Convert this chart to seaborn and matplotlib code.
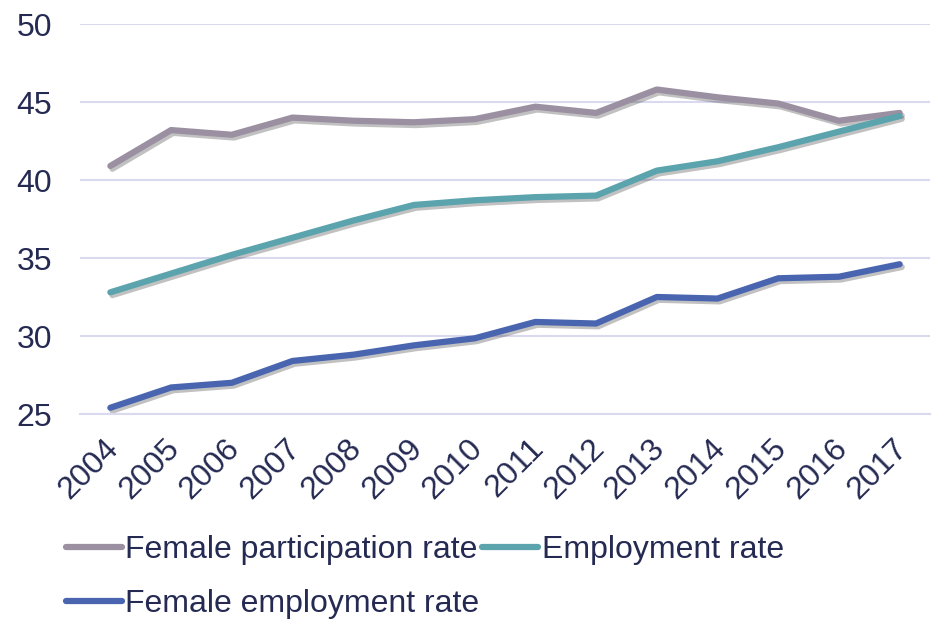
import numpy as np
import pandas as pd
import matplotlib
matplotlib.use("Agg")
import matplotlib.pyplot as plt
import matplotlib.patheffects as pe
import matplotlib.transforms as mtransforms
from matplotlib.lines import Line2D
import seaborn as sns

years = ["2004", "2005", "2006", "2007", "2008", "2009", "2010",
         "2011", "2012", "2013", "2014", "2015", "2016", "2017"]
female_participation = [40.9, 43.2, 42.9, 44.0, 43.8, 43.7, 43.9,
                        44.7, 44.3, 45.8, 45.3, 44.9, 43.8, 44.3]
employment_rate = [32.8, 34.0, 35.2, 36.3, 37.4, 38.4, 38.7,
                   38.9, 39.0, 40.6, 41.2, 42.1, 43.1, 44.1]
female_employment = [25.4, 26.7, 27.0, 28.4, 28.8, 29.4, 29.85,
                     30.9, 30.8, 32.5, 32.4, 33.7, 33.8, 34.6]
series_names = ["Female participation rate", "Employment rate",
                "Female employment rate"]
colors = ["#9b8fa2", "#5ba3ad", "#4a65b0"]
y_ticks = [25, 30, 35, 40, 45, 50]

sns.set_theme(style="white")
plt.rcParams["font.family"] = ["Liberation Sans", "DejaVu Sans"]
text_color = "#252a52"
grid_color = "#d9d9ef"
fs = 23

df = pd.DataFrame({
    "year": years * 3,
    "value": female_participation + employment_rate + female_employment,
    "series": sum([[n] * len(years) for n in series_names], []),
})

fig = plt.figure(figsize=(9.36, 6.21), dpi=100)
ax = fig.add_axes([80 / 936, 1 - 414 / 621, 850 / 936, 390 / 621])

sns.lineplot(data=df, x="year", y="value", hue="series",
             palette=dict(zip(series_names, colors)), linewidth=4.5,
             ax=ax, legend=False, sort=False)

for line in ax.get_lines():
    line.set_solid_capstyle("round")
    line.set_solid_joinstyle("round")
    line.set_path_effects([
        pe.SimpleLineShadow(offset=(1.5, -2), shadow_color="#333333", alpha=0.3),
        pe.Normal(),
    ])

ax.set_xlim(-0.5, len(years) - 0.5)
ax.set_ylim(25, 50)
ax.set_yticks(y_ticks)
ax.set_yticklabels([str(v) for v in y_ticks])
ax.set_xticks(range(len(years)))
ax.set_xticklabels(years, rotation=45, ha="right", rotation_mode="anchor")
ax.set_xticks(np.arange(-0.5, len(years), 1.0), minor=True)
ax.tick_params(axis="x", which="major", length=0, pad=14,
               labelsize=fs, labelcolor=text_color)
ax.tick_params(axis="x", which="minor", length=8, width=1.5, color=grid_color,
               direction="out")
ax.tick_params(axis="y", length=0, labelsize=fs, labelcolor=text_color, pad=20)
offset = mtransforms.ScaledTranslation(-7 / 100, 0, fig.dpi_scale_trans)
for lab in ax.get_xticklabels():
    lab.set_transform(lab.get_transform() + offset)
ax.set_xlabel("")
ax.set_ylabel("")
ax.grid(axis="y", color=grid_color, linewidth=1.5)
ax.set_axisbelow(True)
for s in ["left", "right", "top"]:
    ax.spines[s].set_visible(False)
ax.spines["bottom"].set_color(grid_color)
ax.spines["bottom"].set_linewidth(1.5)

handles = [Line2D([], [], color=c, linewidth=4.5, solid_capstyle="round")
           for c in colors]
order = [0, 2, 1]
leg = fig.legend([handles[i] for i in order], [series_names[i] for i in order],
                 loc="upper left", bbox_to_anchor=(66 / 936, 1 - 535 / 621),
                 ncol=2, frameon=False, fontsize=fs, handlelength=1.75,
                 handletextpad=0.1, columnspacing=0.1, labelspacing=0.75,
                 borderpad=0, borderaxespad=0)
for t in leg.get_texts():
    t.set_color(text_color)

fig.savefig("out.png", dpi=100)
